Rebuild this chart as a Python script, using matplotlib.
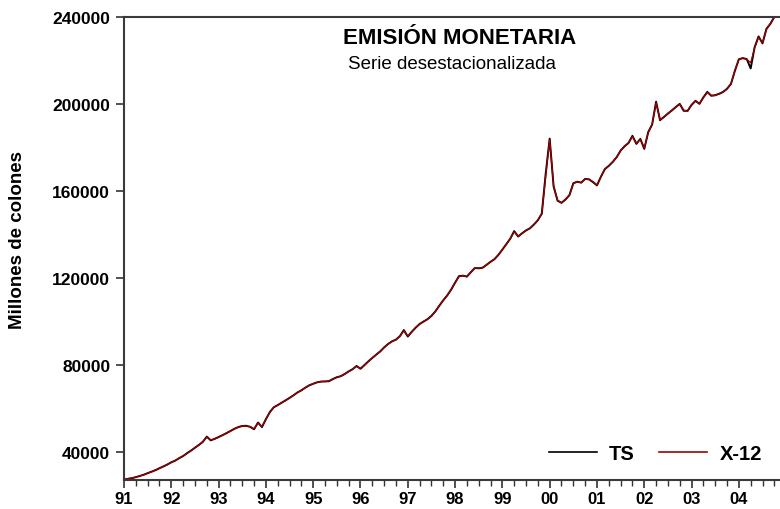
import numpy as np
import matplotlib
matplotlib.use('Agg')
import matplotlib.pyplot as plt
from matplotlib.ticker import MultipleLocator

plt.rcParams['font.family'] = ['Liberation Sans', 'DejaVu Sans']

start_year = 1991
year_labels = ['91', '92', '93', '94', '95', '96', '97', '98', '99',
               '00', '01', '02', '03', '04']
y_ticks = [40000, 80000, 120000, 160000, 200000, 240000]

# monthly values, Jan 1991 - Oct 2004 (millones de colones)
ts = [27300, 27600, 27900, 28400, 28900, 29500, 30200, 30900, 31600, 32500, 33300, 34200,
      35200, 36000, 37100, 38100, 39400, 40600, 41900, 43200, 44600, 47000, 45300, 46000,
      46800, 47700, 48600, 49600, 50600, 51400, 51900, 52000, 51500, 50400, 53500, 51400,
      55000, 58300, 60500, 61500, 62600, 63700, 64800, 66000, 67300, 68300, 69500, 70600,
      71300, 72000, 72300, 72400, 72500, 73500, 74300, 74800, 75800, 77000, 78000, 79500,
      78200, 79900, 81600, 83200, 84700, 86200, 88000, 89600, 90800, 91600, 93200, 96000,
      93000, 95200, 97100, 98800, 99900, 101000, 102500, 104600, 107200, 109700, 111900, 114600,
      117800, 120800, 121000, 120600, 122600, 124500, 124400, 124700, 126000, 127400, 128600, 130600,
      133000, 135500, 138000, 141500, 139000, 140500, 141800, 142800, 144500, 146500, 149500, 168000,
      184000, 162000, 155500, 154500, 156000, 158000, 163500, 164200, 163800, 165500, 165300, 164000,
      162500, 166500, 170000, 171500, 173300, 175500, 178500, 180500, 182000, 185300, 181600, 183900,
      179300, 187000, 190500, 201000, 192500, 194000, 195500, 197000, 198500, 200000, 196800, 196800,
      199500, 201400, 200000, 203000, 205500, 203700, 204000, 204600, 205500, 206900, 209200, 215200,
      220500, 221000, 220600, 216300, 226000, 231000, 227800, 234500, 236800, 240000]

x12 = [27200, 27700, 28000, 28300, 29000, 29400, 30300, 30800, 31700, 32400, 33400, 34100,
       35300, 35900, 37200, 38000, 39500, 40500, 42000, 43100, 44700, 46800, 45500, 45900,
       46900, 47600, 48700, 49500, 50700, 51300, 52000, 51900, 51600, 50600, 53300, 51600,
       55200, 58100, 60600, 61400, 62700, 63600, 64900, 65900, 67400, 68200, 69600, 70500,
       71400, 71900, 72400, 72300, 72600, 73400, 74400, 74700, 75900, 76900, 78100, 79300,
       78400, 79800, 81700, 83100, 84800, 86100, 88100, 89500, 90900, 91500, 93300, 95700,
       93200, 95100, 97200, 98700, 100000, 100900, 102600, 104500, 107300, 109600, 112000, 114500,
       117900, 120600, 121100, 120500, 122700, 124400, 124500, 124600, 126100, 127300, 128700, 130500,
       133100, 135400, 138100, 141200, 139200, 140400, 141900, 142700, 144600, 146400, 149600, 167000,
       183500, 162400, 155700, 154400, 156200, 157900, 163300, 164300, 163700, 165600, 165200, 164200,
       162700, 166400, 170100, 171400, 173400, 175400, 178600, 180400, 182100, 185000, 181900, 183700,
       179700, 186700, 190700, 200500, 192800, 193800, 195700, 196800, 198700, 199800, 197100, 196600,
       199700, 201200, 200200, 202800, 205300, 203900, 203800, 204800, 205300, 207100, 209000, 215500,
       220300, 221200, 220400, 219000, 225700, 230700, 228100, 234200, 237000, 239800]

t = start_year + np.arange(len(ts)) / 12.0

fig = plt.figure(figsize=(7.8, 5.1), dpi=100)
ax = fig.add_axes([0.159, 0.057, 0.841, 0.908])

ax.plot(t, ts, color='black', lw=1.4, label='TS')
ax.plot(t, x12, color='#a00000', lw=0.9, label='X-12')

ax.set_xlim(start_year, start_year + 13.87)
ax.set_ylim(27100, 240000)

ax.set_xticks(start_year + np.arange(len(year_labels)))
ax.set_xticklabels(year_labels)
ax.xaxis.set_minor_locator(MultipleLocator(0.25))
ax.set_yticks(y_ticks)
ax.set_yticklabels([str(v) for v in y_ticks])

ax.tick_params(axis='both', which='major', width=1.2, length=6, color='#333333')
ax.tick_params(axis='y', which='major', labelsize=12.5, pad=4)
ax.tick_params(axis='x', which='major', labelsize=12, pad=2)
ax.tick_params(axis='x', which='minor', width=1.0, length=4, color='#333333')
for lab in ax.get_xticklabels() + ax.get_yticklabels():
    lab.set_fontweight('bold')

ax.spines['right'].set_visible(False)
for s in ['left', 'top', 'bottom']:
    ax.spines[s].set_linewidth(1.5)
    ax.spines[s].set_color('#3a3a3a')

ax.set_ylabel('Millones de colones', fontsize=13.5, fontweight='bold')
ax.yaxis.set_label_coords(-0.149, 0.52)

ax.text(0.512, 0.955, 'EMISIÓN MONETARIA', transform=ax.transAxes, ha='center', va='center',
        fontsize=16, fontweight='bold')
ax.text(0.5, 0.9, 'Serie desestacionalizada', transform=ax.transAxes, ha='center', va='center',
        fontsize=13.5)

leg = ax.legend(loc='center right', bbox_to_anchor=(1.0, 0.056), ncol=2, frameon=False,
                handlelength=2.4, handletextpad=0.6, columnspacing=1.2,
                prop={'size': 14.5, 'weight': 'bold'})
for line in leg.get_lines():
    line.set_linewidth(1.2)

fig.savefig('out.png', dpi=100)
